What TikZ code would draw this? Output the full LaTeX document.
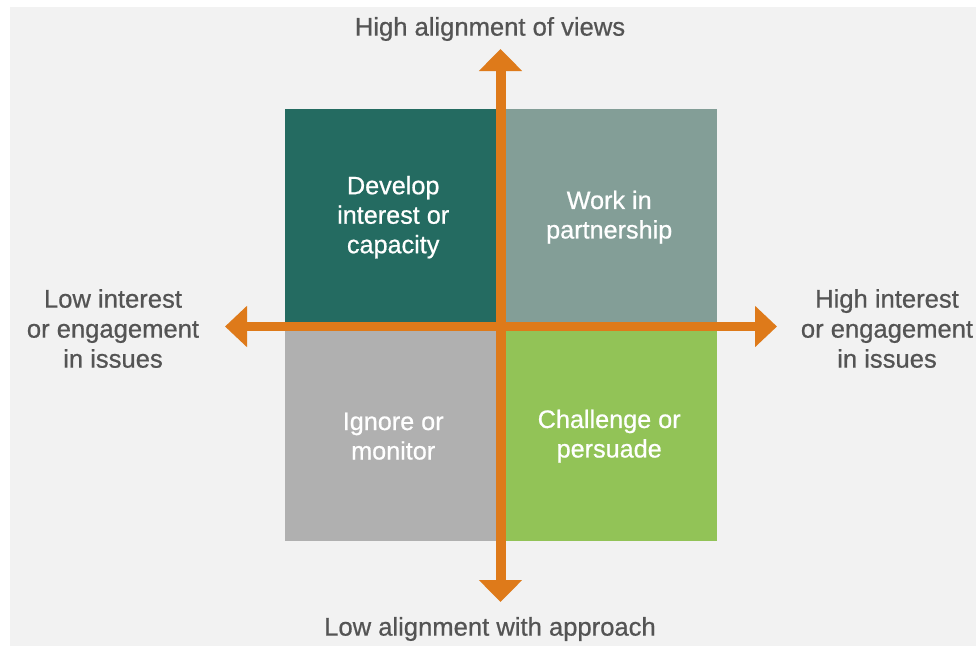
\documentclass[tikz,border=0pt]{standalone}
\usepackage{fontspec}
\setmainfont{Liberation Sans}[AutoFakeBold=0.7]
\usetikzlibrary{arrows.meta}
\definecolor{bgc}{HTML}{F2F2F2}
\definecolor{tealq}{HTML}{246B61}
\definecolor{sageq}{HTML}{839E97}
\definecolor{grayq}{HTML}{B0B0B0}
\definecolor{leafq}{HTML}{92C357}
\definecolor{orng}{HTML}{DE7A1A}
\definecolor{txt}{HTML}{545454}
\begin{document}
\begin{tikzpicture}[x=1pt,y=-1pt,
  quad/.style={inner sep=0pt,minimum width=216pt,minimum height=216pt,anchor=north west,
    text=white,align=center,font=\fontsize{25.2}{29.5}\selectfont\bfseries},
  quadtext/.style={text=white,align=center,inner sep=0pt,font=\fontsize{25.2}{29.5}\selectfont\bfseries},
  axislabel/.style={inner sep=0pt,text=txt,align=center,font=\fontsize{25.6}{30}\selectfont\bfseries},
  vaxis/.style={draw=orng,line width=10pt,{Triangle[width=42pt,length=22pt]}-{Triangle[width=42pt,length=22pt]}},
  haxis/.style={draw=orng,line width=8.5pt,{Triangle[width=40pt,length=22pt]}-{Triangle[width=40pt,length=22pt]}}
]
\useasboundingbox (0,0) rectangle (976,646);
\fill[white] (0,0) rectangle (976,646);
\fill[bgc] (10,7) rectangle (976,646);

\node[quad,fill=tealq] (dev) at (285,109) {Develop\\interest or\\capacity};
\node[quad,fill=sageq] (work) at (501,109) {Work in\\partnership};
\node[quad,fill=grayq] (ign) at (285,325) {};
\node[quad,fill=leafq] (chal) at (501,325) {};
\node[quadtext] (igt) at ([yshift=-3pt]ign.center) {Ignore or\\monitor};
\node[quadtext] (cht) at ([yshift=-3pt]chal.center) {Challenge or\\persuade};

\coordinate (top) at (500.5,49);
\coordinate (bot) at (500.5,602);
\coordinate (lft) at (225,326.5);
\coordinate (rgt) at (777,326.5);

\draw[haxis] (lft) -- (rgt);
\draw[vaxis] (top) -- (bot);

\node[axislabel] (hi) at (490,29) {High alignment of views};
\node[axislabel] (lo) at (490,629) {Low alignment with approach};
\node[axislabel] (li) at (113,328.5) {Low interest\\or engagement\\in issues};
\node[axislabel] (ri) at (887,328.5) {High interest\\or engagement\\in issues};
\end{tikzpicture}
\end{document}
